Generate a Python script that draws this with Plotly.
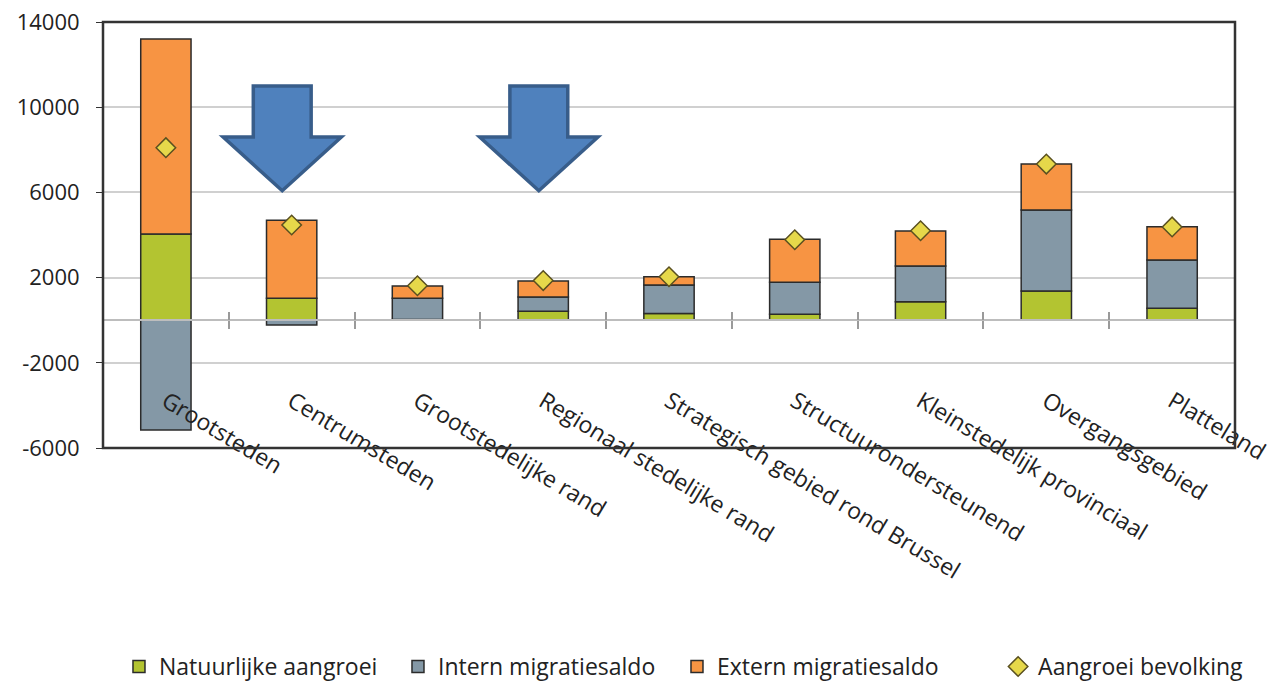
import plotly.graph_objects as go

categories = ["Grootsteden", "Centrumsteden", "Grootstedelijke rand", "Regionaal stedelijke rand",
              "Strategisch gebied rond Brussel", "Structuurondersteunend", "Kleinstedelijk provinciaal",
              "Overgangsgebied", "Platteland"]
natuurlijke = [4050, 1030, 30, 420, 320, 280, 870, 1370, 560]
intern = [-5150, -220, 1000, 670, 1330, 1500, 1680, 3800, 2270]
extern = [9150, 3660, 570, 750, 390, 2020, 1640, 2160, 1560]
aangroei = [8100, 4470, 1620, 1860, 2040, 3780, 4200, 7330, 4380]

y_ticks = [-6000, -2000, 2000, 6000, 10000, 14000]

FONT = "Open Sans"
outline = dict(color="#2b2b2b", width=1.5)

fig = go.Figure()
fig.add_trace(go.Bar(x=categories, y=natuurlijke, name="Natuurlijke aangroei",
                     marker=dict(color="#b3c431", line=outline)))
fig.add_trace(go.Bar(x=categories, y=intern, name="Intern migratiesaldo",
                     marker=dict(color="#8498a6", line=outline)))
fig.add_trace(go.Bar(x=categories, y=extern, name="Extern migratiesaldo",
                     marker=dict(color="#f79443", line=outline)))
fig.add_trace(go.Scatter(x=categories, y=aangroei, name="Aangroei bevolking", mode="markers",
                         legend="legend2",
                         marker=dict(symbol="diamond", size=15, color="#e6d84a",
                                     line=dict(color="#5a5020", width=1.5))))
# helper trace for crossing tick marks
fig.add_trace(go.Scatter(x=[-0.5, 8.5], y=[None, None], xaxis="x2", mode="markers",
                         showlegend=False, hoverinfo="skip"))

# decorative arrows (paths in data coordinates)
def arrow(cx):
    sl, sr = cx - 0.23, cx + 0.23
    hl, hr = cx - 0.47, cx + 0.47
    return (f"M {sl} 11000 L {sr} 11000 L {sr} 8600 L {hr} 8600 L {cx} 6080 "
            f"L {hl} 8600 L {sl} 8600 Z")

for cx in [0.925, 2.965]:
    fig.add_shape(type="path", path=arrow(cx), xref="x", yref="y",
                  fillcolor="#4f81bd", line=dict(color="#385d8a", width=3.5), layer="above")

# plot box
fig.add_shape(type="rect", xref="paper", yref="paper", x0=0, x1=1, y0=0, y1=1,
              line=dict(color="#333333", width=2.5), layer="above")

legend_font = dict(family=FONT, size=23, color="#222222")

fig.update_layout(
    width=1278, height=688,
    barmode="relative",
    bargap=0.6,
    plot_bgcolor="white", paper_bgcolor="white",
    margin=dict(l=103, r=43, t=22, b=240, autoexpand=False),
    font=dict(family=FONT, size=20, color="#222222"),
    showlegend=True,
    legend=dict(orientation="h", xref="container", yref="container",
                x=0.0931, xanchor="left", y=0.0, yanchor="bottom",
                traceorder="normal", entrywidth=234, entrywidthmode="pixels",
                font=legend_font, itemwidth=30),
    legend2=dict(orientation="h", xref="container", yref="container",
                 x=0.781, xanchor="left", y=0.0, yanchor="bottom",
                 font=legend_font, itemwidth=30),
    xaxis=dict(type="category", anchor="free", position=0.3, showline=True,
               linecolor="#bdbdbd", linewidth=1.5, showgrid=False, automargin=False,
               ticks="outside", ticklen=8, tickcolor="#9a9a9a", tickwidth=1.5,
               tickson="boundaries", tickangle=31, ticklabelstandoff=58,
               tickfont=dict(family=FONT, size=23, color="#222222"),
               range=[-0.5, 8.5]),
    xaxis2=dict(type="linear", overlaying="x", anchor="free", position=0.3,
                range=[-0.5, 8.5], tickvals=[0.5, 1.5, 2.5, 3.5, 4.5, 5.5, 6.5, 7.5],
                ticks="inside", ticklen=8, tickcolor="#9a9a9a", tickwidth=1.5,
                showticklabels=False, showgrid=False, showline=False, zeroline=False),
    yaxis=dict(range=[-6000, 14000], tickvals=y_ticks, ticktext=[str(v) for v in y_ticks],
               showgrid=True, gridcolor="#d0d0d0", gridwidth=1.5, automargin=False,
               zeroline=False, ticks="outside", ticklen=6, tickcolor="#333333",
               ticklabelstandoff=12,
               tickfont=dict(family=FONT, size=22, color="#222222")),
)

fig.write_html("out.html", config={"displayModeBar": False},
               post_script="document.body.style.margin='0px';")
